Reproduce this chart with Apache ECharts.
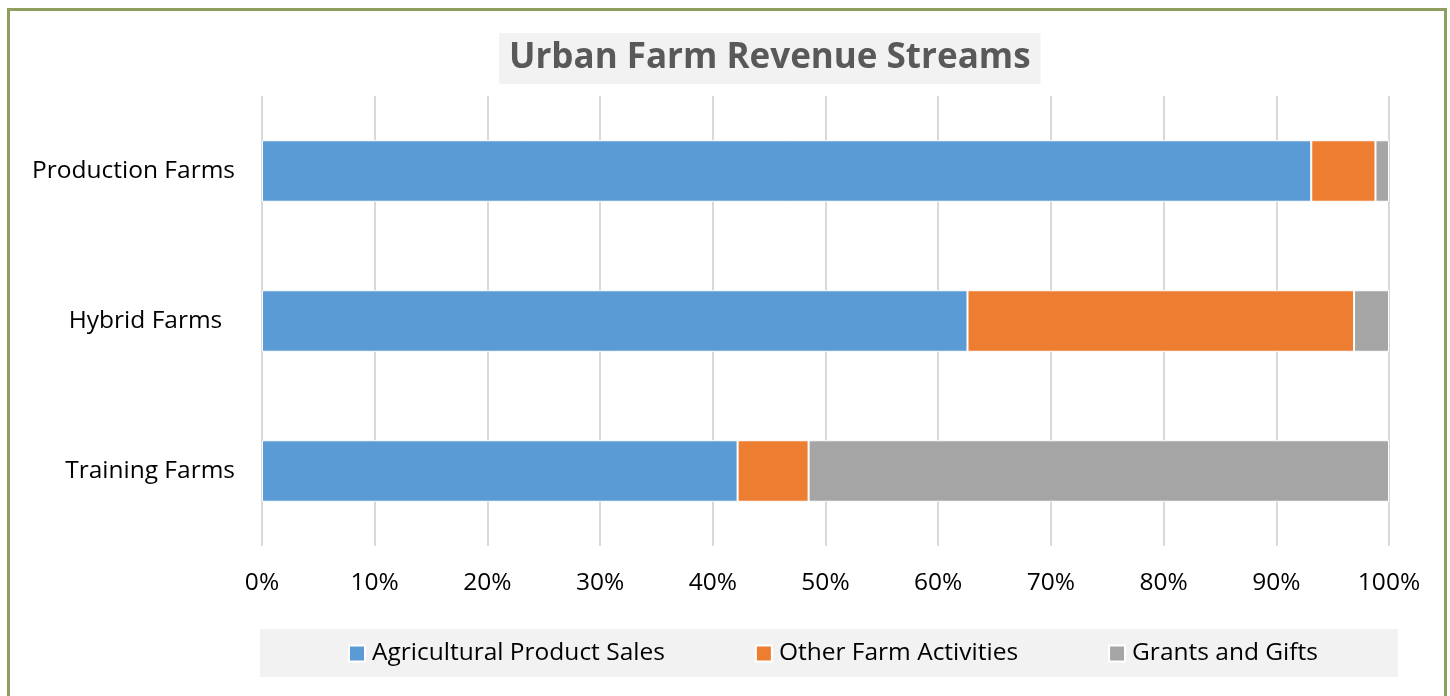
<!DOCTYPE html>
<html>
<head>
<meta charset="utf-8">
<script src="https://cdn.jsdelivr.net/npm/echarts@6/dist/echarts.min.js"></script>
<style>
  html, body { margin: 0; padding: 0; background: #fff; }
  .frame {
    position: absolute; left: 7px; top: 8px; width: 1434px; height: 700px;
    border: 3px solid #8e9f5f; box-sizing: content-box;
  }
  #chart { position: absolute; left: 0; top: 0; width: 1450px; height: 696px; }
</style>
</head>
<body>
<div class="frame"></div>
<div id="chart"></div>
<script>
// bottom-to-top order for the category axis
const categories = ['Training Farms', 'Hybrid Farms  ', 'Production Farms']
const agriSales = [42.2, 62.6, 93.1]
const otherActivities = [6.3, 34.3, 5.7]
const grantsGifts = [51.5, 3.1, 1.2]
const seriesNames = ['Agricultural Product Sales', 'Other Farm Activities', 'Grants and Gifts']
const colors = ['#5b9bd5', '#ed7d31', '#a5a5a5']

const font = 'Open Sans'

const chart = echarts.init(document.getElementById('chart'), null, { renderer: 'canvas' })

const makeSeries = (name, values, color) => ({
  name,
  type: 'bar',
  stack: 'total',
  data: values,
  barCategoryGap: '59%',
  itemStyle: { color, borderColor: '#fff', borderWidth: 1 },
  animation: false
})

const option = {
  title: {
    text: 'Urban Farm Revenue Streams',
    left: 499,
    top: 33,
    backgroundColor: '#f2f2f2',
    padding: [4, 10, 5, 10],
    textStyle: { fontFamily: font, fontWeight: 'bold', fontSize: 35, lineHeight: 42, color: '#595959' }
  },
  graphic: [{
    type: 'rect',
    left: 260, top: 629,
    shape: { width: 1138, height: 48 },
    style: { fill: '#f2f2f2' },
    z: -1
  }],
  legend: {
    top: 641,
    left: 348,
    itemWidth: 16,
    itemHeight: 16,
    itemGap: 90,
    padding: 0,
    icon: 'rect',
    textStyle: { fontFamily: font, fontSize: 24.5, color: '#000', padding: [0, 0, 0, 2] },
    data: seriesNames
  },
  grid: { left: 262, right: 61, top: 96, height: 450 },
  xAxis: {
    type: 'value',
    min: 0,
    max: 100,
    interval: 10,
    axisLine: { show: false },
    axisTick: { show: false },
    splitLine: { lineStyle: { color: '#d9d9d9', width: 2 } },
    axisLabel: {
      formatter: '{value}%',
      margin: 25,
      fontFamily: font,
      fontSize: 24.5,
      color: '#000'
    }
  },
  yAxis: {
    type: 'category',
    data: categories,
    axisLine: { show: false },
    axisTick: { show: false },
    axisLabel: { margin: 27, fontFamily: font, fontSize: 24.5, color: '#000' }
  },
  series: [
    makeSeries(seriesNames[0], agriSales, colors[0]),
    makeSeries(seriesNames[1], otherActivities, colors[1]),
    makeSeries(seriesNames[2], grantsGifts, colors[2])
  ]
}

chart.setOption(option)
</script>
</body>
</html>
